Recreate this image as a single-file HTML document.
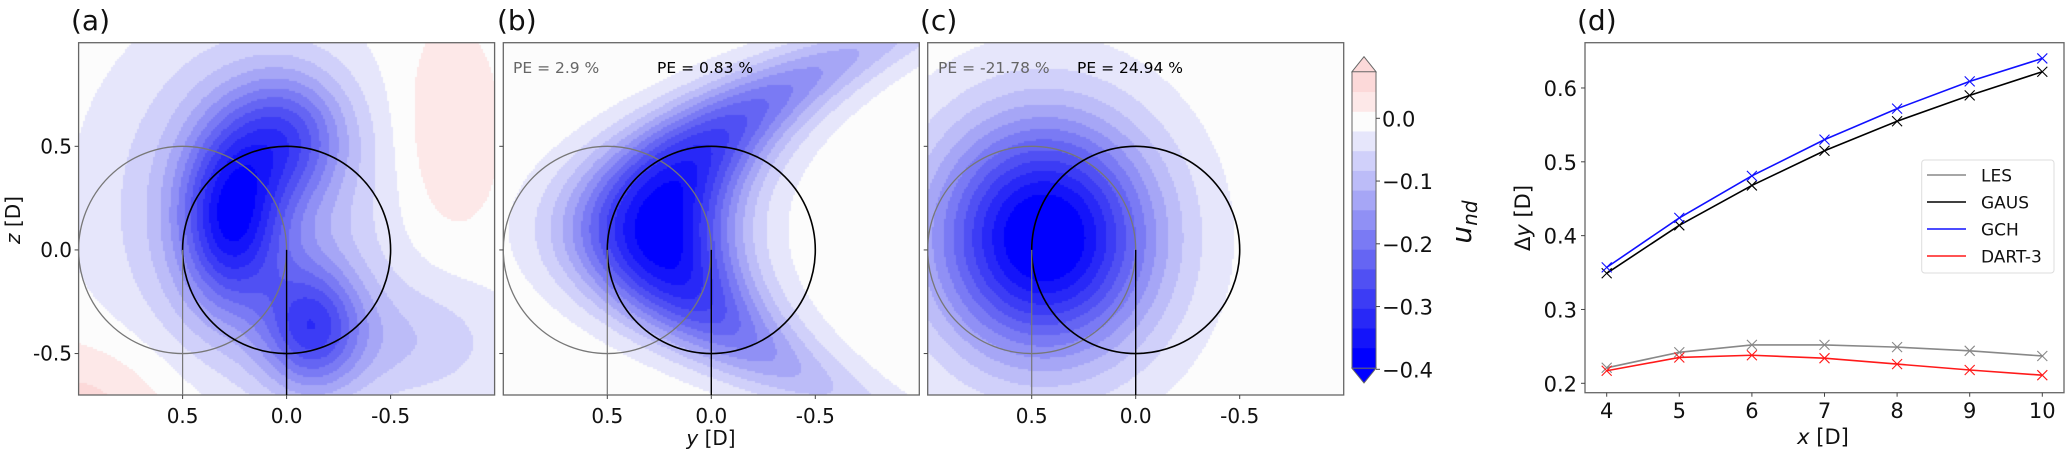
<!DOCTYPE html>
<html><head><meta charset="utf-8">
<style>
html,body{margin:0;padding:0;background:#fff;}
#root{position:relative;width:2069px;height:450px;overflow:hidden;background:#fff;font-family:"DejaVu Sans","Liberation Sans",sans-serif;}
canvas{position:absolute;}
svg{position:absolute;left:0;top:0;}
</style></head>
<body>
<div id="root">
<canvas id="cA" width="416" height="352" style="left:79px;top:43px"></canvas>
<canvas id="cB" width="416" height="352" style="left:503px;top:43px"></canvas>
<canvas id="cC" width="416" height="352" style="left:928px;top:43px"></canvas>
<svg id="ov" width="2069" height="450"></svg>
</div>
<script>
// ---- panel (d) data ----
const xCats = [4,5,6,7,8,9,10];
const lesVals  = [0.221,0.242,0.252,0.252,0.249,0.244,0.237];
const gausVals = [0.349,0.414,0.468,0.515,0.555,0.590,0.622];
const gchVals  = [0.357,0.424,0.481,0.530,0.572,0.609,0.640];
const dartVals = [0.217,0.235,0.238,0.234,0.226,0.218,0.211];
const yTicks = [0.2,0.3,0.4,0.5,0.6];
const xTickLabels = ["4","5","6","7","8","9","10"];
const cbTicks = [0.0,-0.1,-0.2,-0.3,-0.4];
const cbTickLabels = ["0.0","\u22120.1","\u22120.2","\u22120.3","\u22120.4"];
const contourTicks = [0.5,0.0,-0.5];
const contourTickLabels = ["0.5","0.0","-0.5"];
const zTickLabels = ["0.5","0.0","-0.5"];

const NS="http://www.w3.org/2000/svg";
const ov=document.getElementById('ov');
function mk(tag,attrs,parent){const e=document.createElementNS(NS,tag);for(const k in attrs)e.setAttribute(k,attrs[k]);(parent||ov).appendChild(e);return e;}
function txt(s,attrs){const e=mk('text',attrs);e.textContent=s;return e;}

const bandColors=["#0000ff","#1414fa","#2828f7","#3c3cf5","#5050f3","#6565f3","#7a7af4","#9090f5","#a6a6f6","#bcbcf8","#d0d0fa","#e6e6fb","#fcfcfc","#fde8e8","#fcd9d9"];
const vLow=-0.397, step=0.0314;
function colorFor(v){let k=Math.floor((v-vLow)/step);if(k<0)k=0;if(k>14)k=14;return bandColors[k];}
function g(y,z,a,cy,cz,sy,sz){return a*Math.exp(-((y-cy)**2)/(2*sy*sy)-((z-cz)**2)/(2*sz*sz));}
function fieldA(y,z){
 return g(y,z,-0.26,0.27,0.15,0.17,0.30)+g(y,z,-0.18,0.0,0.55,0.20,0.22)+g(y,z,-0.22,-0.12,-0.38,0.17,0.22)
  +g(y,z,-0.12,0.2,0.2,0.45,0.55)+g(y,z,-0.07,-0.6,-0.45,0.35,0.22)+g(y,z,0.045,-0.76,0.55,0.17,0.36)+g(y,z,0.06,0.98,-0.78,0.33,0.24);
}
function fieldB(y,z){
 const yc=0.24-1.2*(z-0.1)*(z-0.1);const dy=y-yc;const sy=dy>0?0.30:0.25;const sz=z>0.1?0.55:0.45;
 return -0.40*Math.exp(-dy*dy/(2*sy*sy))*Math.exp(-((z-0.1)**2)/(2*sz*sz));
}
function fieldC(y,z){return g(y,z,-0.42,0.44,0.06,0.37,0.40);}
function drawField(id,f){
 const c=document.getElementById(id),ctx=c.getContext('2d');const W=416,H=352,s=2;
 for(let px=0;px<W;px+=s)for(let py=0;py<H;py+=s){
  const y=1-2*(px+s/2)/W, z=1-1.7*(py+s/2)/H;
  ctx.fillStyle=colorFor(f(y,z));ctx.fillRect(px,py,s,s);
 }
}
drawField('cA',fieldA);drawField('cB',fieldB);drawField('cC',fieldC);

const Ls=[78.6,503.3,927.7],T=42.7,W=416,H=352.3;
function PX(L,y){return L+(1-y)*W/2;}
function PY(z){return T+(1-z)*H/1.7;}
const panelNames=['les','gaus','gch'];
Ls.forEach((L,i)=>{
 const r=mk('rect',{x:L,y:T,width:W,height:H,fill:'none',stroke:'#666','stroke-width':1.3});
 
 const c1=mk('ellipse',{cx:PX(L,0.5),cy:PY(0),rx:W/4,ry:0.5*H/1.7,fill:'none',stroke:'#777','stroke-width':1.3});
 
 const c2=mk('ellipse',{cx:PX(L,0),cy:PY(0),rx:W/4,ry:0.5*H/1.7,fill:'none',stroke:'#000','stroke-width':1.6});
 
 const l1=mk('line',{x1:PX(L,0.5),y1:PY(0),x2:PX(L,0.5),y2:T+H,stroke:'#777','stroke-width':1.2});
 
 const l2=mk('line',{x1:PX(L,0),y1:PY(0),x2:PX(L,0),y2:T+H,stroke:'#000','stroke-width':1.4});
 
 contourTicks.forEach((v,j)=>{
  mk('line',{x1:PX(L,v),y1:T+H,x2:PX(L,v),y2:T+H+4,stroke:'#444'});
  const t=txt(contourTickLabels[j],{x:PX(L,v),y:423,'font-size':20,'text-anchor':'middle',fill:'#111'});
  
  mk('line',{x1:L-4,y1:PY(v),x2:L,y2:PY(v),stroke:'#444'});
 });
});
contourTicks.forEach((v,j)=>{
 const t=txt(zTickLabels[j],{x:72,y:PY(v)+7,'font-size':20,'text-anchor':'end',fill:'#111'});
 
});
let e;
e=mk('text',{x:0,y:0,'font-size':20,'text-anchor':'middle',fill:'#111',transform:'translate(20,220) rotate(-90)'});
e.innerHTML='<tspan font-style="italic">z</tspan> [D]';

e=mk('text',{x:711,y:445,'font-size':20,'text-anchor':'middle',fill:'#111'});
e.innerHTML='<tspan font-style="italic">y</tspan> [D]';

[['(a)',71],['(b)',497],['(c)',920],['(d)',1577]].forEach(([s,x])=>{
 const t=txt(s,{x:x,y:30,'font-size':28,fill:'#111'});
 
});
[['PE = 2.9 %',513,'#666'],['PE = 0.83 %',657,'#000'],['PE = -21.78 %',938,'#666'],['PE = 24.94 %',1077,'#000']].forEach(([s,x,c])=>{
 const t=txt(s,{x:x,y:73,'font-size':15.5,fill:c});
 
});

const cbL=1352,cbR=1376,cbTop=71.7,cbBot=368.3;
function CBY(v){return 118.3-(v)*627.5;}
bandColors.forEach((c,k)=>{
 const y0=CBY(vLow+step*(k+1)),y1=CBY(vLow+step*k);
 const r=mk('rect',{x:cbL,y:y0,width:cbR-cbL,height:y1-y0+0.5,fill:c});
 
});
e=mk('polygon',{points:`${cbL},${cbTop} ${(cbL+cbR)/2},56.7 ${cbR},${cbTop}`,fill:bandColors[14],stroke:'#666','stroke-width':1});

e=mk('polygon',{points:`${cbL},${cbBot} ${(cbL+cbR)/2},383 ${cbR},${cbBot}`,fill:bandColors[0],stroke:'#666','stroke-width':1});

mk('line',{x1:cbL,y1:cbTop,x2:cbL,y2:cbBot,stroke:'#666'});mk('line',{x1:cbR,y1:cbTop,x2:cbR,y2:cbBot,stroke:'#666'});
cbTicks.forEach((v,j)=>{
 mk('line',{x1:cbR,y1:CBY(v),x2:cbR+4,y2:CBY(v),stroke:'#444'});
 const t=txt(cbTickLabels[j],{x:1382,y:CBY(v)+8,'font-size':21,fill:'#111'});
 
});
e=mk('text',{x:0,y:0,'font-size':28,'font-style':'italic','text-anchor':'middle',fill:'#111',transform:'translate(1471,222) rotate(-90)'});
e.innerHTML='u<tspan font-size="20" dy="6">nd</tspan>';


const dL=1585,dR=2064,dT=42.7,dB=392.7;
function X(x){return 1606.7+(x-4)*72.6;}
function Y(v){return 383.3-(v-0.2)*738.3;}
e=mk('rect',{x:dL,y:dT,width:dR-dL,height:dB-dT,fill:'none',stroke:'#666','stroke-width':1.3});

yTicks.forEach(v=>{
 mk('line',{x1:dL-4,y1:Y(v),x2:dL,y2:Y(v),stroke:'#444'});
 const t=txt(v.toFixed(1),{x:1577,y:Y(v)+8,'font-size':21,'text-anchor':'end',fill:'#111'});
 
});
xCats.forEach((x,j)=>{
 mk('line',{x1:X(x),y1:dB,x2:X(x),y2:dB+4,stroke:'#444'});
 const t=txt(xTickLabels[j],{x:X(x),y:418,'font-size':21,'text-anchor':'middle',fill:'#111'});
 
});
e=mk('text',{x:0,y:0,'font-size':21,'text-anchor':'middle',fill:'#111',transform:'translate(1530,218) rotate(-90)'});
e.innerHTML='\u0394<tspan font-style="italic">y</tspan> [D]';

e=mk('text',{x:1823,y:444,'font-size':21,'text-anchor':'middle',fill:'#111'});
e.innerHTML='<tspan font-style="italic">x</tspan> [D]';

const series=[['les',lesVals,'#888'],['gaus',gausVals,'#000'],['gch',gchVals,'#1010ff'],['dart-3',dartVals,'#ff1a1a']];
series.forEach(([n,vals,c])=>{
 const pts=vals.map((v,i)=>X(xCats[i])+','+Y(v)).join(' ');
 const pl=mk('polyline',{points:pts,fill:'none',stroke:c,'stroke-width':1.6});
 
 vals.forEach((v,i)=>{
  const cx=X(xCats[i]),cy=Y(v),s=5;
  const m=mk('path',{d:`M${cx-s},${cy-s}L${cx+s},${cy+s}M${cx-s},${cy+s}L${cx+s},${cy-s}`,stroke:c,'stroke-width':1.1,fill:'none'});
  
 });
});
e=mk('rect',{x:1921.7,y:160,width:132.3,height:113,rx:3,fill:'#fff',stroke:'#ddd','stroke-width':1});

const legNames=['LES','GAUS','GCH','DART-3'];
series.forEach(([n,vals,c],i)=>{
 const y=175+i*27;
 mk('line',{x1:1927,y1:y,x2:1966,y2:y,stroke:c,'stroke-width':1.6});
 const t=txt(legNames[i],{x:1981,y:y+6.5,'font-size':17,fill:'#111'});
 
});
</script>
</body></html>
